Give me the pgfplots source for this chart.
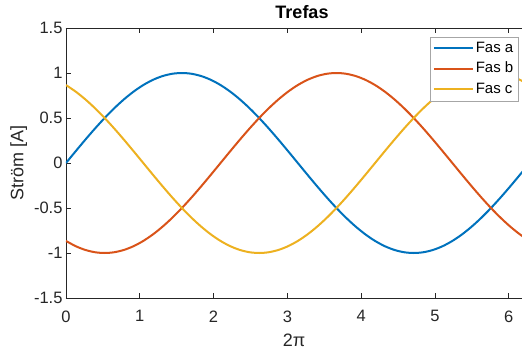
\documentclass[border=0pt]{standalone}
\usepackage{fontspec}
\setmainfont{Liberation Sans}
\usepackage{pgfplots}
\pgfplotsset{compat=1.18}
\usepackage{pgfplotstable}

\definecolor{mlblue}{rgb}{0,0.447,0.741}
\definecolor{mlorange}{rgb}{0.85,0.325,0.098}
\definecolor{mlyellow}{rgb}{0.929,0.694,0.125}
\definecolor{axgray}{rgb}{0.15,0.15,0.15}

% three-phase currents, sampled every pi/24 over one period
\pgfplotstableread{
x       a        b        c
0.0000  0.0000  -0.8660   0.8660
0.1309  0.1305  -0.9239   0.7934
0.2618  0.2588  -0.9659   0.7071
0.3927  0.3827  -0.9914   0.6088
0.5236  0.5000  -1.0000   0.5000
0.6545  0.6088  -0.9914   0.3827
0.7854  0.7071  -0.9659   0.2588
0.9163  0.7934  -0.9239   0.1305
1.0472  0.8660  -0.8660   0.0000
1.1781  0.9239  -0.7934  -0.1305
1.3090  0.9659  -0.7071  -0.2588
1.4399  0.9914  -0.6088  -0.3827
1.5708  1.0000  -0.5000  -0.5000
1.7017  0.9914  -0.3827  -0.6088
1.8326  0.9659  -0.2588  -0.7071
1.9635  0.9239  -0.1305  -0.7934
2.0944  0.8660   0.0000  -0.8660
2.2253  0.7934   0.1305  -0.9239
2.3562  0.7071   0.2588  -0.9659
2.4871  0.6088   0.3827  -0.9914
2.6180  0.5000   0.5000  -1.0000
2.7489  0.3827   0.6088  -0.9914
2.8798  0.2588   0.7071  -0.9659
3.0107  0.1305   0.7934  -0.9239
3.1416  0.0000   0.8660  -0.8660
3.2725 -0.1305   0.9239  -0.7934
3.4034 -0.2588   0.9659  -0.7071
3.5343 -0.3827   0.9914  -0.6088
3.6652 -0.5000   1.0000  -0.5000
3.7961 -0.6088   0.9914  -0.3827
3.9270 -0.7071   0.9659  -0.2588
4.0579 -0.7934   0.9239  -0.1305
4.1888 -0.8660   0.8660   0.0000
4.3197 -0.9239   0.7934   0.1305
4.4506 -0.9659   0.7071   0.2588
4.5815 -0.9914   0.6088   0.3827
4.7124 -1.0000   0.5000   0.5000
4.8433 -0.9914   0.3827   0.6088
4.9742 -0.9659   0.2588   0.7071
5.1051 -0.9239   0.1305   0.7934
5.2360 -0.8660   0.0000   0.8660
5.3669 -0.7934  -0.1305   0.9239
5.4978 -0.7071  -0.2588   0.9659
5.6287 -0.6088  -0.3827   0.9914
5.7596 -0.5000  -0.5000   1.0000
5.8905 -0.3827  -0.6088   0.9914
6.0214 -0.2588  -0.7071   0.9659
6.1523 -0.1305  -0.7934   0.9239
6.2832  0.0000  -0.8660   0.8660
}\trefas

\begin{document}
\begin{tikzpicture}
\begin{axis}[
  scale only axis,
  width=456pt, height=270pt,
  xmin=0, xmax=6.18, ymin=-1.5, ymax=1.5,
  axis x line=box, axis y line=left,
  axis line style={-, draw=axgray, line width=0.6pt},
  xtick={0,1,2,3,4,5,6},
  ytick={-1.5,-1,-0.5,0,0.5,1,1.5},
  tick align=inside, major tick length=5pt,
  tick style={draw=axgray, line width=0.6pt},
  /pgf/number format/assume math mode=true,
  ticklabel style={font=\fontsize{16.5}{18}\selectfont, text=axgray},
  xticklabel shift=9pt,
  title={\bfseries Trefas},
  title style={font=\fontsize{18}{20}\selectfont, text=black, xshift=8pt, yshift=0pt},
  xlabel={2π},
  xlabel style={yshift=-5pt},
  ylabel={Ström [A]},
  label style={font=\fontsize{18}{20}\selectfont, text=axgray},
  legend style={at={(rel axis cs:1,1)}, anchor=north east, xshift=-4pt, yshift=-9pt,
    draw=gray!70, fill=white, font=\fontsize{15}{17}\selectfont,
    inner sep=2.5pt, row sep=3pt, column sep=0pt,
    nodes={text height=10.5pt, text depth=3pt, inner sep=2pt},
    cells={anchor=west, text=black}},
  legend image code/.code={\draw[#1, line width=2pt, sharp plot] (0pt,0pt) -- (39pt,0pt);},
  clip=true,
]
\addplot[mlblue, line width=2pt, smooth] table[x=x, y=a] {\trefas};
\addplot[mlorange, line width=2pt, smooth] table[x=x, y=b] {\trefas};
\addplot[mlyellow, line width=2pt, smooth] table[x=x, y=c] {\trefas};
\legend{Fas a, Fas b, Fas c}
\coordinate (sw) at (rel axis cs:0,0);
\coordinate (ne) at (rel axis cs:1,1);
\end{axis}
\pgfresetboundingbox
\path[use as bounding box] ([xshift=-66pt, yshift=-53pt]sw) rectangle ([yshift=28pt]ne);
\end{tikzpicture}
\end{document}
